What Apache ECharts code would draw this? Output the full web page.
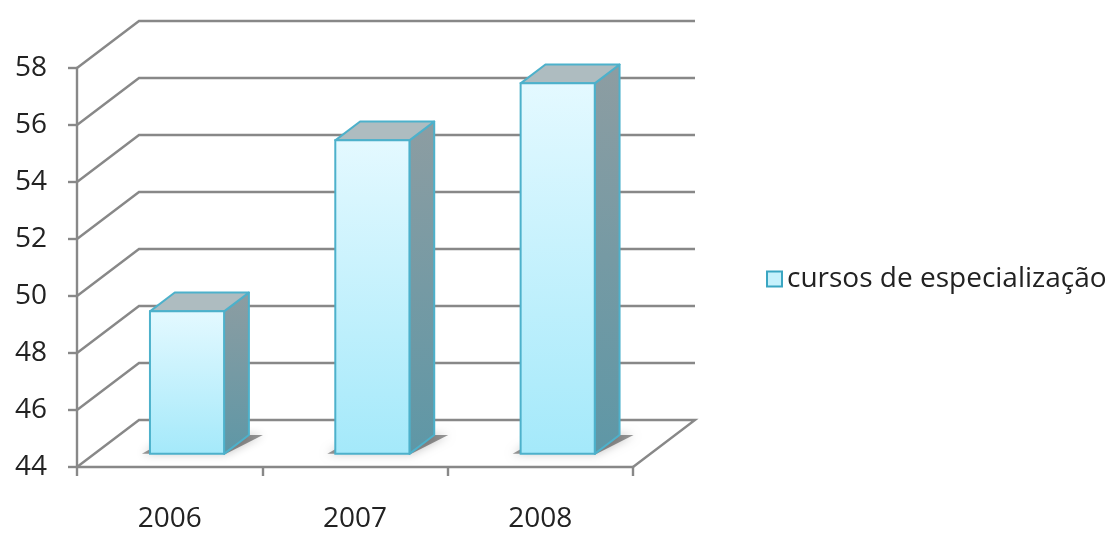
<!DOCTYPE html>
<html><head><meta charset="utf-8">
<script src="https://cdn.jsdelivr.net/npm/echarts@6/dist/echarts.min.js"></script>
<style>html,body{margin:0;padding:0;background:#fff}#c{width:1115px;height:534px}</style>
</head><body><div id="c"></div>
<script>
const categories = ['2006', '2007', '2008'];
const seriesName = 'cursos de especialização';
const values = [49, 55, 57];
const yTicks = [44, 46, 48, 50, 52, 54, 56, 58];

const DX = 62, DY = -47;      // depth of the 3D box in pixels
const F0 = 0.28, F1 = 0.68;   // bar front/back depth fractions
const GRID = '#888888';
const EDGE = '#4db1cb';
const FONT = 'Open Sans';

const chart = echarts.init(document.getElementById('c'), null, {renderer: 'canvas'});

function wallItem(params, api) {
  const cs = params.coordSys;
  const v = api.value(1);
  const y = api.coord([0, v])[1];
  const x0 = cs.x, x1 = cs.x + cs.width;
  const pts = [[x0, y], [x0 + DX, y + DY], [x1 + DX, y + DY]];
  if (v === yTicks[0]) pts.push([x1, y]);
  return {type: 'polyline', shape: {points: pts}, style: {stroke: GRID, lineWidth: 2.4, fill: null}};
}

function barItem(params, api) {
  const idx = api.value(0), v = api.value(1);
  const top = api.coord([idx, v]);
  const base = api.coord([idx, yTicks[0]]);
  const bw = api.size([1, 0])[0] * 0.4;
  const fx = F0 * DX, fy = F0 * DY;
  const dx = (F1 - F0) * DX, dy = (F1 - F0) * DY;
  const xl = top[0] - bw / 2 + fx, xr = xl + bw;
  const yt = top[1] + fy, yb = base[1] + fy;
  return {
    type: 'group',
    children: [
      {type: 'polygon', shape: {points: [[xl - 8, yb], [xr + 2, yb], [xr + dx + 14, yb + dy], [xl + dx, yb + dy]]},
        style: {fill: 'rgba(0,0,0,0.4)', shadowBlur: 10, shadowColor: 'rgba(0,0,0,0.6)'}},
      {type: 'polygon', shape: {points: [[xr, yt], [xr + dx, yt + dy], [xr + dx, yb + dy], [xr, yb]]},
        style: {fill: {type: 'linear', x: 0, y: 0, x2: 0, y2: 1, colorStops: [
          {offset: 0, color: '#8d9da2'}, {offset: 1, color: '#5e97a6'}]}, stroke: EDGE, lineWidth: 2, lineJoin: 'round'}},
      {type: 'polygon', shape: {points: [[xl, yt], [xl + dx, yt + dy], [xr + dx, yt + dy], [xr, yt]]},
        style: {fill: '#aebcc0', stroke: EDGE, lineWidth: 2, lineJoin: 'round'}},
      {type: 'rect', shape: {x: xl, y: yt, width: bw, height: yb - yt},
        style: {fill: {type: 'linear', x: 0, y: 0, x2: 0, y2: 1, colorStops: [
          {offset: 0, color: '#e4f9ff'}, {offset: 1, color: '#a4e9fa'}]}, stroke: EDGE, lineWidth: 2}}
    ]
  };
}

chart.setOption({
  animation: false,
  backgroundColor: '#ffffff',
  legend: {
    data: [{name: seriesName, icon: 'rect', itemStyle: {color: '#c6f1fc', borderColor: '#3aa6c2', borderWidth: 2}}],
    left: 761, top: 260, itemWidth: 15, itemHeight: 15, itemGap: 6,
    textStyle: {fontFamily: FONT, fontSize: 28, color: '#222222'}
  },
  grid: {left: 77, top: 68, width: 556, height: 399, containLabel: false},
  xAxis: {
    type: 'category', data: categories, boundaryGap: true,
    axisLine: {show: true, lineStyle: {color: GRID, width: 2.4}},
    axisTick: {show: true, length: 9, lineStyle: {color: GRID, width: 2.4}},
    axisLabel: {fontFamily: FONT, fontSize: 28, color: '#222222', margin: 38},
    splitLine: {show: false}
  },
  yAxis: {
    type: 'value', min: yTicks[0], max: yTicks[yTicks.length - 1], interval: 2,
    axisLine: {show: true, lineStyle: {color: GRID, width: 2.4}},
    axisTick: {show: true, length: 9, lineStyle: {color: GRID, width: 2.4}},
    axisLabel: {fontFamily: FONT, fontSize: 28, color: '#222222', margin: 30},
    splitLine: {show: false}
  },
  series: [
    {type: 'custom', name: 'walls', renderItem: wallItem, data: yTicks.map(v => [0, v]), z: 1, silent: true, legendHoverLink: false},
    {type: 'custom', name: seriesName, renderItem: barItem, data: values.map((v, i) => [i, v]), z: 3,
      itemStyle: {color: '#c6f1fc', borderColor: '#3aa6c2'}}
  ]
});
</script></body></html>
